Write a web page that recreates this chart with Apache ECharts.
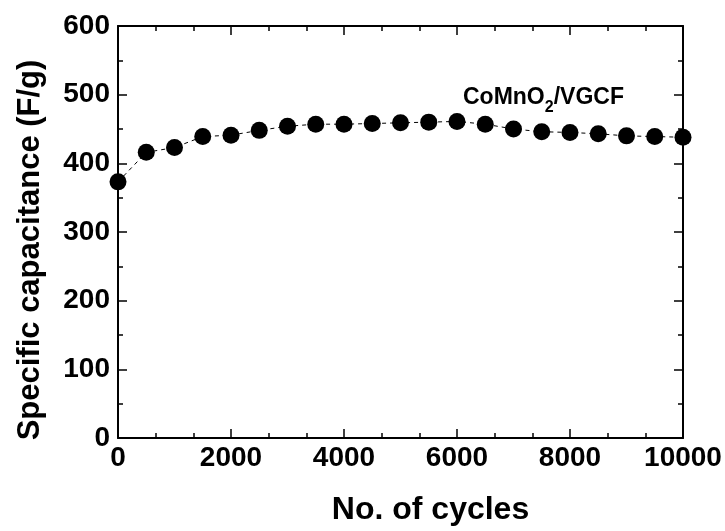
<!DOCTYPE html>
<html>
<head>
<meta charset="utf-8">
<script src="https://cdn.jsdelivr.net/npm/echarts@6/dist/echarts.min.js"></script>
<style>
    html, body { margin: 0; padding: 0; background: #fff; }
    #main { width: 725px; height: 531px; }
</style>
</head>
<body>
<div id="main"></div>
<script>
    // 循环次数
    var cycles = [0, 500, 1000, 1500, 2000, 2500, 3000, 3500, 4000, 4500, 5000,
        5500, 6000, 6500, 7000, 7500, 8000, 8500, 9000, 9500, 10000];
    // 比电容 (F/g)
    var capacitance = [373, 416, 423, 439, 441, 448, 454, 457, 457, 458, 459,
        460, 461, 457, 450, 446, 445, 443, 440, 439, 438];

    var points = [];
    for (var i = 0; i < cycles.length; i++) {
        points.push([cycles[i], capacitance[i]]);
    }

    var font = 'Liberation Sans, Arial, sans-serif';
    var axisLine = {show: true, onZero: false, lineStyle: {color: '#000', width: 2}};
    var plain = function (v) { return String(v); };

    var chart = echarts.init(document.getElementById('main'));
    chart.setOption({
        animation: false,
        backgroundColor: '#fff',
        grid: {left: 118, right: 42, top: 26, bottom: 93},
        graphic: [
            {
                type: 'text',
                left: 463,
                top: 80,
                style: {
                    text: '{a|CoMnO}{s|2}{a|/VGCF}',
                    rich: {
                        a: {fontFamily: font, fontWeight: 'bold', fontSize: 23, fill: '#000', lineHeight: 26},
                        s: {fontFamily: font, fontWeight: 'bold', fontSize: 16, fill: '#000', padding: [20, 0, 0, 0], lineHeight: 26}
                    }
                }
            }
        ],
        xAxis: [
            {
                type: 'value',
                min: 0,
                max: 10000,
                interval: 2000,
                name: 'No. of cycles',
                nameLocation: 'middle',
                nameGap: 56,
                nameTextStyle: {fontFamily: font, fontWeight: 'bold', fontSize: 32, color: '#000', padding: [0, 0, 0, 60]},
                axisLine: axisLine,
                axisTick: {inside: true, length: 9, lineStyle: {color: '#000', width: 1.5}},
                minorTick: {show: true, splitNumber: 3, length: 5, lineStyle: {color: '#000', width: 1.5}},
                axisLabel: {fontFamily: font, fontWeight: 'bold', fontSize: 28, color: '#000', margin: 6, formatter: plain},
                splitLine: {show: false}
            },
            {
                type: 'value',
                position: 'top',
                min: 0,
                max: 10000,
                interval: 2000,
                axisLine: axisLine,
                axisTick: {inside: true, length: 9, lineStyle: {color: '#000', width: 1.5}},
                minorTick: {show: true, splitNumber: 3, length: 5, lineStyle: {color: '#000', width: 1.5}},
                axisLabel: {show: false},
                splitLine: {show: false}
            }
        ],
        yAxis: [
            {
                type: 'value',
                min: 0,
                max: 600,
                interval: 100,
                name: 'Specific capacitance (F/g)',
                nameLocation: 'middle',
                nameGap: 72,
                nameTextStyle: {fontFamily: font, fontWeight: 'bold', fontSize: 31, color: '#000', padding: [0, 36, 0, 0]},
                axisLine: axisLine,
                axisTick: {inside: true, length: 9, lineStyle: {color: '#000', width: 1.5}},
                minorTick: {show: true, splitNumber: 2, length: 5, lineStyle: {color: '#000', width: 1.5}},
                axisLabel: {fontFamily: font, fontWeight: 'bold', fontSize: 28, color: '#000', margin: 8, formatter: plain},
                splitLine: {show: false}
            },
            {
                type: 'value',
                position: 'right',
                min: 0,
                max: 600,
                interval: 100,
                axisLine: axisLine,
                axisTick: {inside: true, length: 9, lineStyle: {color: '#000', width: 1.5}},
                minorTick: {show: true, splitNumber: 2, length: 5, lineStyle: {color: '#000', width: 1.5}},
                axisLabel: {show: false},
                splitLine: {show: false}
            }
        ],
        series: [
            {
                name: 'CoMnO2/VGCF',
                type: 'line',
                data: points,
                symbol: 'circle',
                symbolSize: 17,
                itemStyle: {color: '#000'},
                lineStyle: {color: '#000', width: 1, type: [4, 4]},
                clip: false
            }
        ]
    });
</script>
</body>
</html>
